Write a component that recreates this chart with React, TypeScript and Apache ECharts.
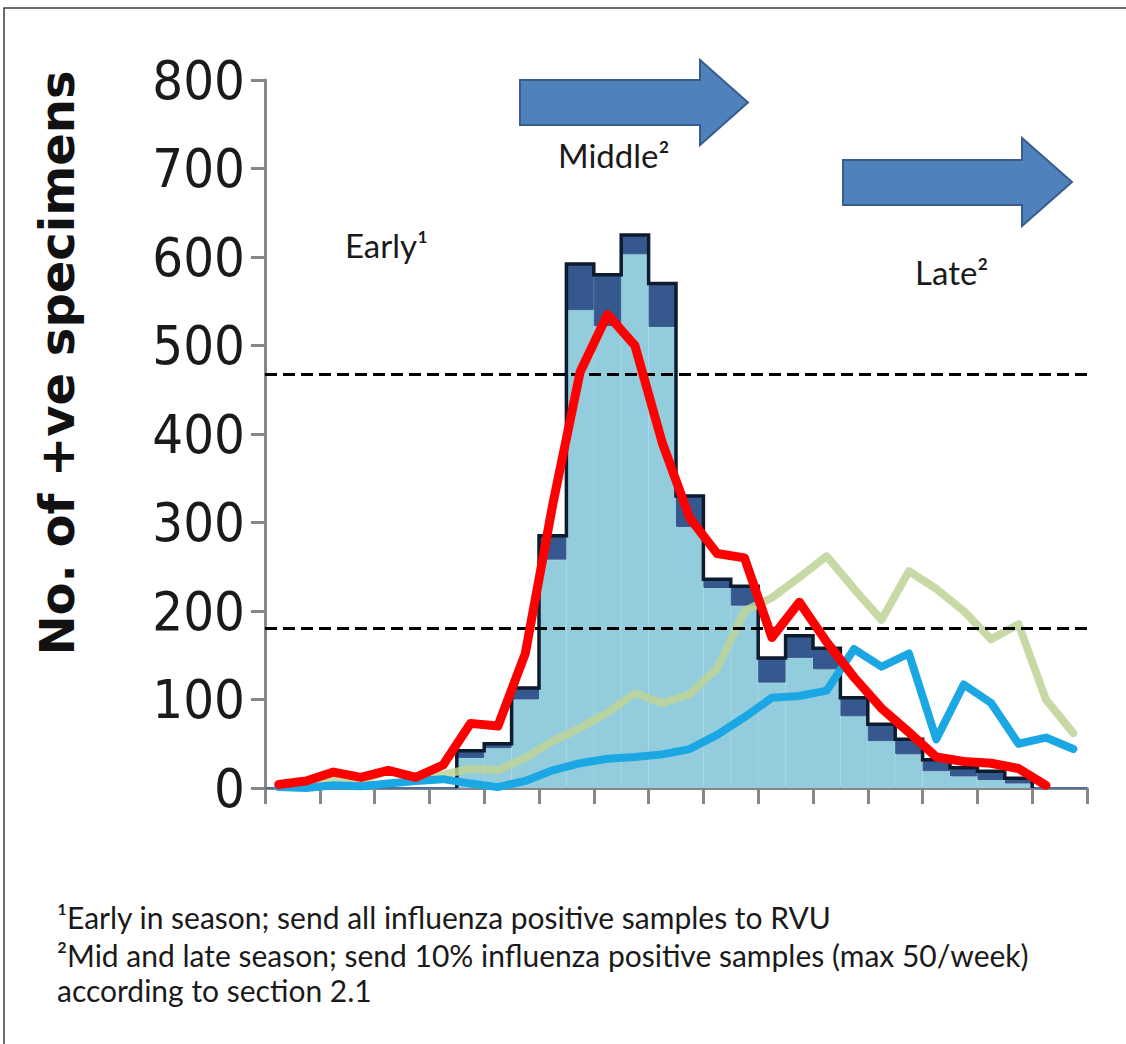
import React, { useEffect, useRef } from "react";
import * as echarts from "echarts";

// ---- data ----
const weeks = ["1","2","3","4","5","6","7","8","9","10","11","12","13","14","15","16","17","18","19","20","21","22","23","24","25","26","27","28","29","30"];
// histogram: total height (outline) and lower light part
const histTotal = [0,0,0,0,0,0,0,42,50,113,285,592,580,625,570,330,236,228,147,172,158,102,72,55,32,23,19,11,0,0];
const histLight = [0,0,0,0,0,0,0,34,45,100,258,540,522,603,521,295,226,206,119,147,134,81,53,38,19,13,9,5,0,0];
const redLine = [4,8,18,12,20,12,26,73,70,152,320,470,535,500,390,305,265,260,170,210,165,125,90,63,35,30,28,22,3,null];
const greenLine = [2,6,12,8,20,10,15,22,20,34,53,68,85,107,96,106,135,200,215,238,262,225,190,245,225,200,168,185,100,62];
const blueLine = [1,0,3,2,5,8,10,5,1,8,20,28,33,35,38,44,60,80,102,104,110,157,137,152,55,117,96,50,57,44];
const thresholds = [467, 181];
const yTicks = { min: 0, max: 800, interval: 100 };

export default function App() {
  const ref = useRef<HTMLDivElement>(null);
  useEffect(() => {
    if (!ref.current) return;
    const chart = echarts.init(ref.current, null, { renderer: "svg" });

    const histDark = histTotal.map((t, i) => Math.max(0, t - histLight[i]));
    let first = histTotal.findIndex((v) => v > 0);
    let last = histTotal.length - 1;
    while (last > 0 && histTotal[last] <= 0) last--;
    const steps: number[][] = [[first, 0]];
    for (let i = first; i <= last; i++) {
      steps.push([i, histTotal[i]], [i + 1, histTotal[i]]);
    }
    steps.push([last + 1, 0]);

    const axisGray = "#878787";
    const left = 265, top = 80, right = 1126 - 1087, bottom = 1044 - 788;

    const arrow = (x0: number, yTop: number, yBot: number, xh: number, hTop: number, hBot: number, xt: number) => [
      [x0, yTop], [xh, yTop], [xh, hTop], [xt, (hTop + hBot) / 2], [xh, hBot], [xh, yBot], [x0, yBot],
    ];

    const textFont = "Lato, 'Open Sans', sans-serif";
    const lightBlue = "#93CDDD";
    const darkBlue = "#35598E";

    chart.setOption({
      animation: false,
      backgroundColor: "#ffffff",
      grid: { left, top, right, bottom, containLabel: false },
      xAxis: [
        { type: "category", data: weeks, show: false, boundaryGap: true },
        {
          type: "value", min: 0, max: 30, interval: 2, position: "bottom",
          axisLine: { show: true, lineStyle: { color: axisGray, width: 3 } },
          axisTick: { show: true, length: 16, lineStyle: { color: axisGray, width: 3 } },
          axisLabel: { show: false }, splitLine: { show: false },
        },
      ],
      yAxis: {
        type: "value", min: yTicks.min, max: yTicks.max, interval: yTicks.interval,
        axisLine: { show: true, lineStyle: { color: axisGray, width: 3 } },
        axisTick: { show: true, length: 14, lineStyle: { color: axisGray, width: 3 } },
        splitLine: { show: false },
        axisLabel: { fontSize: 54, color: "#1a1a1a", margin: 20, fontFamily: "'Liberation Sans Narrow', 'DejaVu Sans Condensed', sans-serif" },
      },
      series: [
        {
          type: "bar", xAxisIndex: 0, stack: "h", barCategoryGap: "0%", data: histLight,
          itemStyle: { color: lightBlue, borderColor: lightBlue, borderWidth: 1 }, silent: true, z: 1,
        },
        {
          type: "bar", xAxisIndex: 0, stack: "h", barCategoryGap: "0%", data: histDark,
          itemStyle: { color: darkBlue, borderColor: darkBlue, borderWidth: 1 }, silent: true, z: 1,
        },
        {
          type: "line", xAxisIndex: 1, data: steps, symbol: "none", z: 2,
          lineStyle: { color: "#0c1b2e", width: 3.5, join: "miter" },
          markLine: {
            silent: true, symbol: "none", label: { show: false },
            lineStyle: { color: "#000", width: 3, type: [12, 6] },
            data: thresholds.map((v) => ({ yAxis: v })),
          },
        },
        {
          type: "line", xAxisIndex: 0, data: greenLine, symbol: "none", z: 3,
          lineStyle: { color: "#BDD396", width: 8, opacity: 0.85, join: "round", cap: "round" },
        },
        {
          type: "line", xAxisIndex: 0, data: blueLine, symbol: "none", z: 4,
          lineStyle: { color: "#1AA7E3", width: 8, join: "round", cap: "round" },
        },
        {
          type: "line", xAxisIndex: 0, data: redLine, symbol: "none", z: 5,
          lineStyle: { color: "#FF0000", width: 9, join: "round", cap: "round" },
        },
      ],
      graphic: [
        { type: "rect", shape: { x: 4, y: 8, width: 1140, height: 1060 }, style: { fill: "none", stroke: "#3c3c3c", lineWidth: 1.5 }, silent: true },
        {
          type: "text", x: 57, y: 363, rotation: Math.PI / 2,
          style: { text: "No. of +ve specimens", font: "bold 48px 'DejaVu Sans', sans-serif", fill: "#111", align: "center", verticalAlign: "middle" },
        },
        { type: "polygon", shape: { points: arrow(520, 80, 125, 700, 60, 145, 748) }, style: { fill: "#4F81BD", stroke: "#385D8A", lineWidth: 2 } },
        { type: "polygon", shape: { points: arrow(843, 160, 205, 1022, 138, 226, 1072) }, style: { fill: "#4F81BD", stroke: "#385D8A", lineWidth: 2 } },
        { type: "text", x: 345, y: 245, style: { text: "Early¹", font: "33px " + textFont, fill: "#1a1a1a", verticalAlign: "middle" } },
        { type: "text", x: 558, y: 155, style: { text: "Middle²", font: "33px " + textFont, fill: "#1a1a1a", verticalAlign: "middle" } },
        { type: "text", x: 915, y: 272, style: { text: "Late²", font: "33px " + textFont, fill: "#1a1a1a", verticalAlign: "middle" } },
        { type: "text", x: 57, y: 917, style: { text: "¹Early in season; send all influenza positive samples to RVU", font: "30px " + textFont, fill: "#1a1a1a", verticalAlign: "middle" } },
        { type: "text", x: 57, y: 955, style: { text: "²Mid and late season; send 10% influenza positive samples (max 50/week)", font: "30px " + textFont, fill: "#1a1a1a", verticalAlign: "middle" } },
        { type: "text", x: 57, y: 990, style: { text: "according to section 2.1", font: "30px " + textFont, fill: "#1a1a1a", verticalAlign: "middle" } },
      ],
    });
    return () => chart.dispose();
  }, []);
  return <div ref={ref} style={{ position: "absolute", left: 0, top: 0, width: 1126, height: 1044 }} />;
}
